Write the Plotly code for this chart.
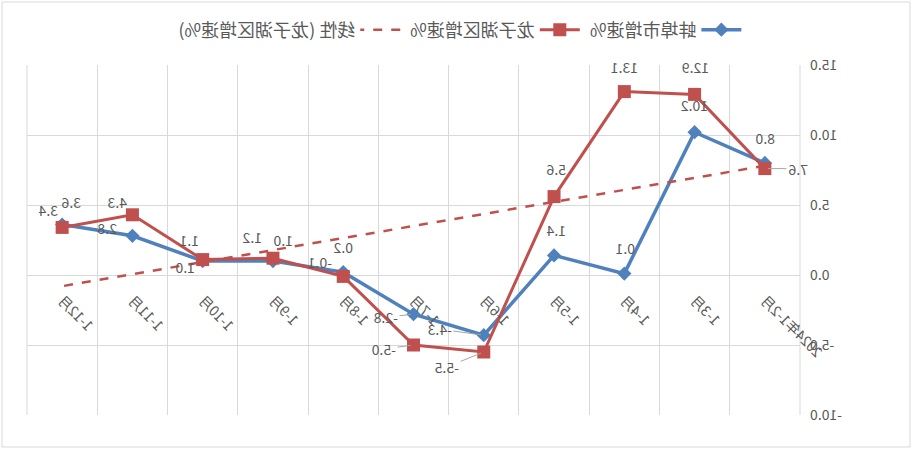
import plotly.graph_objects as go

# ==========================
# DATA
# ==========================

months = ["2024年1-2月", "1-3月", "1-4月", "1-5月", "1-6月", "1-7月",
          "1-8月", "1-9月", "1-10月", "1-11月", "1-12月"]

bengbu = [8.0, 10.2, 0.1, 1.4, -4.3, -2.8, 0.2, 1.0, 1.0, 2.8, 3.6]
longzihu = [7.6, 12.9, 13.1, 5.6, -5.5, -5.0, -0.1, 1.2, 1.1, 4.3, 3.4]

# linear trend of longzihu, read at first and last month
trend_ends = [7.8, -0.8]

y_ticks = [-10, -5, 0, 5, 10, 15]

# ==========================
# STYLE
# ==========================

BLUE = "#4F81BD"
RED = "#C0504D"
GREY_TEXT = "#595959"
GRID = "#D9D9D9"
FONT = "Noto Sans CJK SC"

W, H = 912, 449
M_L, M_R, M_T, M_B = 112, 27, 65, 34

# label offsets in pixels (x right, y up) and leader line flags
blue_dx = [0, 0, -1, -2, 44, 28, 0, -10, 18, 25, -9]
blue_dy = [25, 27, 26, 25, 6, -3, 25, 21, -6, 8, 23]
blue_leader = [False, False, False, False, True, True, False, False, False, False, False]

red_dx = [-33, -1, 0, -2, 37, 30, 23, 21, 13, 15, 14]
red_dy = [0, 27, 25, 28, -15, -4, 14, 21, 20, 13, 17]
red_leader = [True, False, False, False, True, True, False, False, False, False, False]

# ==========================
# FIGURE
# ==========================

fig = go.Figure()

fig.add_trace(go.Scatter(
    x=months, y=bengbu, name="蚌埠市增速%",
    mode="lines+markers",
    line=dict(color=BLUE, width=3.5),
    marker=dict(symbol="diamond", size=11, color=BLUE),
))

fig.add_trace(go.Scatter(
    x=months, y=longzihu, name="龙子湖区增速%",
    mode="lines+markers",
    line=dict(color=RED, width=3),
    marker=dict(symbol="square", size=13, color=RED),
))

fig.add_trace(go.Scatter(
    x=[months[0], months[-1]], y=trend_ends, name="线性 (龙子湖区增速%)",
    mode="lines",
    line=dict(color=RED, width=2.5, dash="dash"),
))

# data labels
def add_labels(values, dxs, dys, leaders):
    for m, v, dx, dy, lead in zip(months, values, dxs, dys, leaders):
        txt = f"{v:.1f}"
        if lead:
            fig.add_annotation(
                x=m, y=v, text=txt, showarrow=True,
                ax=dx, ay=-dy,
                arrowhead=0, arrowwidth=1, arrowcolor="#A6A6A6", standoff=3,
                font=dict(family=FONT, size=14, color=GREY_TEXT),
            )
        else:
            fig.add_annotation(
                x=m, y=v, text=txt, showarrow=False,
                xshift=dx, yshift=dy,
                font=dict(family=FONT, size=14, color=GREY_TEXT),
            )

add_labels(bengbu, blue_dx, blue_dy, blue_leader)
add_labels(longzihu, red_dx, red_dy, red_leader)

# outer chart border
pw = W - M_L - M_R
ph = H - M_T - M_B
fig.add_shape(
    type="rect", xref="paper", yref="paper",
    x0=(2 - M_L) / pw, x1=(W - 2 - M_L) / pw,
    y0=-(M_B - 2) / ph, y1=1 + (M_T - 2) / ph,
    line=dict(color=GRID, width=1),
)

# vertical gridlines at both plot edges
for xe in (0, 1):
    fig.add_shape(
        type="line", xref="paper", yref="paper",
        x0=xe, x1=xe, y0=0, y1=1,
        line=dict(color=GRID, width=1), layer="below",
    )

fig.update_layout(
    width=W, height=H,
    margin=dict(l=M_L, r=M_R, t=M_T, b=M_B),
    paper_bgcolor="white",
    plot_bgcolor="white",
    font=dict(family=FONT, color=GREY_TEXT, size=14),
    showlegend=True,
    legend=dict(
        orientation="h", x=0.44, xanchor="center", y=1.1, yanchor="middle",
        font=dict(size=18, color=GREY_TEXT), bgcolor="rgba(0,0,0,0)",
        itemwidth=40,
    ),
)

fig.update_xaxes(
    type="category",
    tickson="boundaries",
    showgrid=True, gridcolor=GRID, gridwidth=1,
    showline=False, ticks="",
    tickangle=-45,
    ticklabelstandoff=14,
    tickfont=dict(size=14, color=GREY_TEXT),
    anchor="free", position=(0 - y_ticks[0]) / (y_ticks[-1] - y_ticks[0]),
    range=[-0.5, len(months) - 0.5],
)

fig.update_yaxes(
    range=[y_ticks[0], y_ticks[-1]],
    tickvals=y_ticks, ticktext=[f"{t:.1f}" for t in y_ticks],
    showgrid=True, gridcolor=GRID, gridwidth=1,
    zeroline=True, zerolinecolor=GRID, zerolinewidth=1,
    showline=False, ticks="",
    ticklabelstandoff=9,
    tickfont=dict(size=14, color=GREY_TEXT),
)

# ==========================
# SAVE
# ==========================

# the reference chart is shown mirrored left-to-right
mirror_js = (
    "document.body.style.margin='0';"
    "var d=document.getElementById('{plot_id}');"
    "d.style.transform='scaleX(-1)';"
)

fig.write_html("out.html", post_script=mirror_js,
               config={"displayModeBar": False})
